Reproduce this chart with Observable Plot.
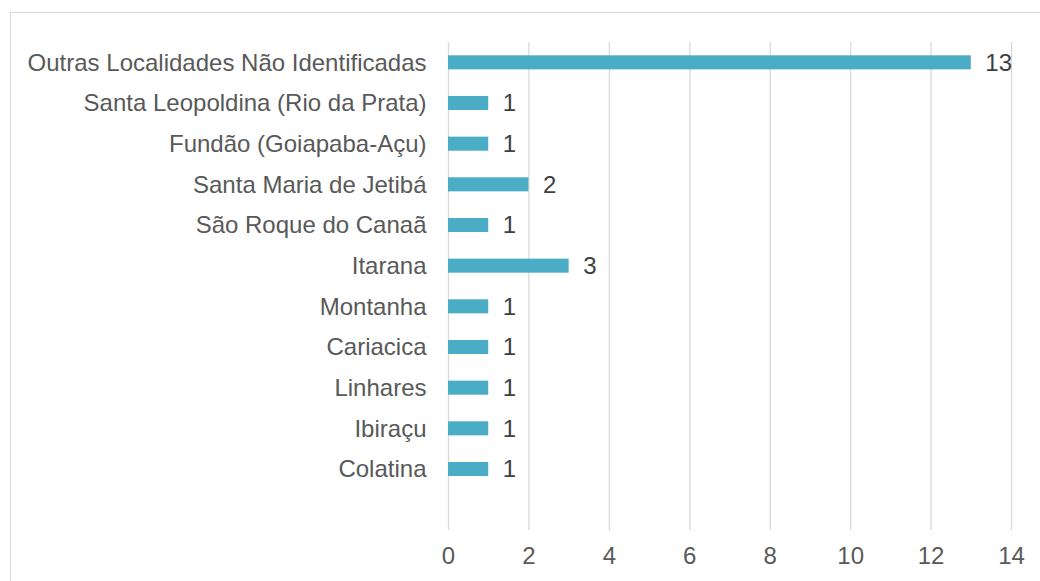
<!DOCTYPE html>
<html>
<head>
<meta charset="utf-8">
<script src="https://cdn.jsdelivr.net/npm/d3@7"></script>
<script src="https://cdn.jsdelivr.net/npm/@observablehq/plot@0.6"></script>
<style>
  html, body { margin: 0; padding: 0; background: #fff; overflow: hidden; }
  #wrap { position: relative; width: 1040px; height: 581px; }
  #border { position: absolute; left: 10px; top: 12px; width: 1100px; height: 650px; border: 1px solid #d9d9d9; box-sizing: border-box; pointer-events: none; }
  #chart { position: absolute; left: 0; top: 0; }
</style>
</head>
<body>
<div id="wrap"><div id="chart"></div><div id="border"></div></div>
<script>
const categories = [
  "Outras Localidades Não Identificadas",
  "Santa Leopoldina (Rio da Prata)",
  "Fundão (Goiapaba-Açu)",
  "Santa Maria de Jetibá",
  "São Roque do Canaã",
  "Itarana",
  "Montanha",
  "Cariacica",
  "Linhares",
  "Ibiraçu",
  "Colatina"
];
const values = [13, 1, 1, 2, 1, 3, 1, 1, 1, 1, 1];
const xTicks = [0, 2, 4, 6, 8, 10, 12, 14];

const data = categories.map((c, i) => ({cat: c, value: values[i]}));

const chart = Plot.plot({
  width: 1040,
  height: 581,
  marginTop: 42,
  marginBottom: 51,
  marginLeft: 448,
  marginRight: 29,
  style: {fontFamily: "'Liberation Sans', Arial, sans-serif", fontSize: "24px", color: "#595959", background: "transparent"},
  x: {domain: [0, 14]},
  y: {domain: [...categories, " "], paddingInner: 0.655, paddingOuter: 0.3275, align: 0.5, round: false},
  marks: [
    Plot.gridX(xTicks, {stroke: "#d9d9d9", strokeOpacity: 1, strokeWidth: 1.3}),
    Plot.barX(data, {x: "value", y: "cat", fill: "#4bacc6"}),
    Plot.text(data, {x: "value", y: "cat", text: d => String(d.value), textAnchor: "start", dx: 14, fill: "#404040", fontSize: 24}),
    Plot.axisX(xTicks, {tickSize: 0, tickPadding: 16, label: null, fontSize: 24}),
    Plot.axisY({tickSize: 0, tickPadding: 22, label: null, fontSize: 24})
  ]
});
document.getElementById("chart").appendChild(chart);
</script>
</body>
</html>
